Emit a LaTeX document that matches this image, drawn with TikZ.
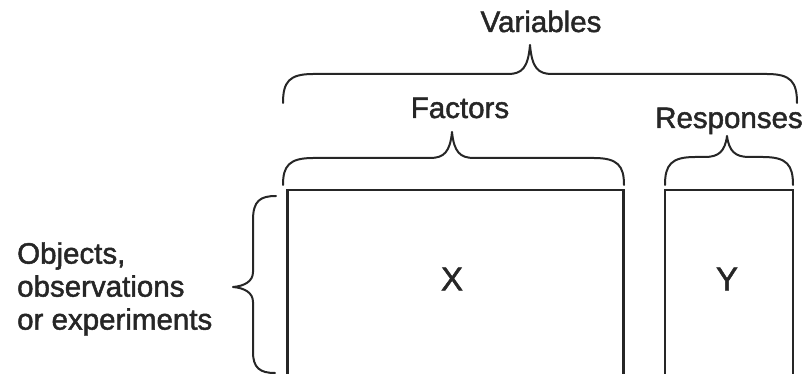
\documentclass[tikz,border=0pt]{standalone}
\usepackage{fontspec}
\setmainfont{Liberation Sans}
\newfontfamily\lblf{Liberation Sans}[FakeBold=1.6]
\newcommand\hbrc[6]{% xl, xr, xtip, yend, yflat, ytip
  \draw[brc] (#1,#4) .. controls (#1,#5+8) and (#1+6,#5) .. (#1+30,#5)
    -- (#3-22,#5) .. controls (#3-8,#5) and (#3-2,#5-6) .. (#3,#6)
    .. controls (#3+2,#5-6) and (#3+8,#5) .. (#3+22,#5)
    -- (#2-30,#5) .. controls (#2-6,#5) and (#2,#5+8) .. (#2,#4);}
\begin{document}
\begin{tikzpicture}[x=1pt,y=-1pt,
  lbl/.style={font=\lblf\fontsize{29.5}{33}\selectfont, inner sep=0pt, text=black!85, anchor=base},
  bx/.style={draw=black!85, line width=2.6pt, rectangle, inner sep=0pt, font=\lblf\fontsize{33}{36}\selectfont, text=black!85},
  brc/.style={draw=black!85, line width=2pt, line cap=round, line join=round}]
\useasboundingbox (0,0) rectangle (809,374);
% boxes (bottom cut by the page edge)
\node[bx, minimum width=336pt, minimum height=188pt] (X) at (455.5,284) {};
\node[bx, minimum width=128pt, minimum height=188pt] (Y) at (729,284) {};
\node[bx, draw=none] (xl) at (452,279) {X};
\node[bx, draw=none] (yl) at (727,279) {Y};
% labels
\node[lbl] (var) at (541,32) {Variables};
\node[lbl] (fac) at (460,118) {Factors};
\node[lbl] (res) at (729,128) {Responses};
\node[lbl, align=left, anchor=west] (obj) at (17,289) {Objects,\\observations\\or experiments};
% braces
\hbrc{283}{797}{530}{103}{74}{45}
\hbrc{283}{624}{452}{185}{158}{132}
\hbrc{665}{793}{727}{185}{157}{136}
\draw[brc] (276,196) .. controls (260,196) and (253,201) .. (253,220)
  -- (253,272) .. controls (253,281) and (245,286) .. (233,287)
  .. controls (245,288) and (253,293) .. (253,302)
  -- (253,352) .. controls (253,368) and (260,373) .. (275,373);
\end{tikzpicture}
\end{document}
